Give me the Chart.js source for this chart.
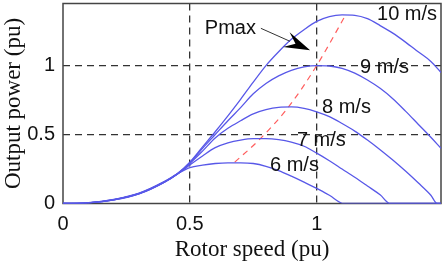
<!DOCTYPE html>
<html>
<head>
<meta charset="utf-8">
<title>Output power vs rotor speed</title>
<script src="https://cdn.jsdelivr.net/npm/chart.js@4.4.0/dist/chart.umd.min.js"></script>
<style>
  html, body { margin: 0; padding: 0; background: #fff; }
  #wrap { width: 444px; height: 264px; }
</style>
</head>
<body>
<div id="wrap"><canvas id="myChart" width="444" height="264"></canvas></div>
<script>
// rotor speed (pu) and output power (pu) for each wind speed
var x6  = [0, 0.1, 0.2, 0.3, 0.4, 0.45, 0.5, 0.55, 0.6, 0.65, 0.7, 0.75, 0.8, 0.85, 0.9, 0.95, 1.0, 1.05, 1.107, 1.49];
var p6  = [0, 0.006, 0.03, 0.075, 0.16, 0.215, 0.26, 0.278, 0.29, 0.295, 0.295, 0.29, 0.27, 0.238, 0.198, 0.155, 0.11, 0.06, 0, 0];
var x7  = [0, 0.1, 0.2, 0.3, 0.4, 0.45, 0.5, 0.55, 0.6, 0.65, 0.7, 0.75, 0.8, 0.85, 0.9, 0.95, 1.0, 1.05, 1.1, 1.15, 1.2, 1.25, 1.29, 1.49];
var p7  = [0, 0.005, 0.028, 0.073, 0.157, 0.212, 0.28, 0.345, 0.405, 0.44, 0.46, 0.47, 0.47, 0.463, 0.445, 0.415, 0.365, 0.31, 0.25, 0.19, 0.127, 0.063, 0, 0];
var x8  = [0, 0.1, 0.2, 0.3, 0.4, 0.45, 0.5, 0.55, 0.6, 0.65, 0.7, 0.75, 0.8, 0.85, 0.9, 0.95, 1.0, 1.05, 1.1, 1.15, 1.2, 1.25, 1.3, 1.35, 1.4, 1.45, 1.475, 1.49];
var p8  = [0, 0.005, 0.027, 0.072, 0.156, 0.212, 0.29, 0.38, 0.475, 0.545, 0.60, 0.65, 0.68, 0.697, 0.70, 0.69, 0.665, 0.63, 0.58, 0.525, 0.46, 0.39, 0.315, 0.235, 0.15, 0.06, 0, 0];
var x9  = [0, 0.1, 0.2, 0.3, 0.4, 0.45, 0.5, 0.55, 0.6, 0.65, 0.7, 0.75, 0.8, 0.85, 0.9, 0.95, 1.0, 1.05, 1.1, 1.15, 1.2, 1.25, 1.3, 1.35, 1.4, 1.45, 1.49];
var p9  = [0, 0.005, 0.027, 0.071, 0.155, 0.213, 0.295, 0.40, 0.50, 0.60, 0.695, 0.795, 0.87, 0.925, 0.965, 0.99, 1.0, 0.997, 0.98, 0.945, 0.895, 0.835, 0.76, 0.67, 0.575, 0.48, 0.40];
var x10 = [0, 0.1, 0.2, 0.3, 0.4, 0.45, 0.5, 0.55, 0.6, 0.65, 0.7, 0.75, 0.8, 0.85, 0.9, 0.95, 1.0, 1.05, 1.1, 1.15, 1.2, 1.25, 1.3, 1.35, 1.4, 1.45, 1.49];
var p10 = [0, 0.005, 0.026, 0.07, 0.155, 0.215, 0.30, 0.41, 0.52, 0.635, 0.755, 0.88, 1.0, 1.10, 1.19, 1.26, 1.32, 1.355, 1.367, 1.364, 1.34, 1.29, 1.235, 1.17, 1.10, 1.03, 0.95];

// maximum power points (red dashed)
var xPmax = [0.677, 0.778, 0.889, 1.0, 1.115];
var pPmax = [0.30, 0.47, 0.70, 1.0, 1.37];

var speedLabels = ['6 m/s', '7 m/s', '8 m/s', '9 m/s', '10 m/s'];
var xTicks = [0, 0.5, 1];
var yTicks = [0, 0.5, 1];

// where the text sits, in axis units
var labelAt = [[0.816, 0.279], [0.922, 0.46], [1.021, 0.699], [1.171, 0.989], [1.238, 1.368]];
var pmaxText = { text: 'Pmax', at: [0.559, 1.272] };
var arrowFrom = [0.78, 1.27], arrowTo = [0.974, 1.111];

var sans = '"Liberation Sans", Arial, sans-serif';
var serif = '"Liberation Serif", "Times New Roman", serif';
var blue = 'rgb(88,88,232)';

function pts(xs, ys) {
	return xs.map(function (x, i) { return { x: x, y: ys[i] }; });
}

var curves = [[x6, p6], [x7, p7], [x8, p8], [x9, p9], [x10, p10]];
var datasets = curves.map(function (c, i) {
	return { label: speedLabels[i], data: pts(c[0], c[1]), borderColor: blue, borderWidth: 1.3 };
});
datasets.push({ label: 'Pmax', data: pts(xPmax, pPmax), borderColor: 'rgb(255,95,95)', borderWidth: 1.2, borderDash: [6, 5] });

var overlay = {
	id: 'overlay',
	beforeDatasetsDraw: function (chart) {
		var a = chart.chartArea, c = chart.ctx;
		c.save();
		c.strokeStyle = '#444';
		c.lineWidth = 1.5;
		c.strokeRect(a.left, a.top, a.right - a.left, a.bottom - a.top);
		c.restore();
	},
	afterDatasetsDraw: function (chart) {
		var c = chart.ctx, sx = chart.scales.x, sy = chart.scales.y;
		c.save();
		c.fillStyle = '#111';
		c.font = '20px ' + sans;
		c.textAlign = 'left';
		c.textBaseline = 'middle';
		speedLabels.forEach(function (t, i) {
			c.fillText(t, sx.getPixelForValue(labelAt[i][0]), sy.getPixelForValue(labelAt[i][1]));
		});
		c.fillText(pmaxText.text, sx.getPixelForValue(pmaxText.at[0]), sy.getPixelForValue(pmaxText.at[1]));

		// arrow
		var x0 = sx.getPixelForValue(arrowFrom[0]), y0 = sy.getPixelForValue(arrowFrom[1]);
		var x1 = sx.getPixelForValue(arrowTo[0]), y1 = sy.getPixelForValue(arrowTo[1]);
		var ang = Math.atan2(y1 - y0, x1 - x0), len = 22, hw = 8;
		var bx = x1 - len * Math.cos(ang), by = y1 - len * Math.sin(ang);
		c.strokeStyle = '#333';
		c.lineWidth = 1;
		c.beginPath();
		c.moveTo(x0, y0);
		c.lineTo(bx, by);
		c.stroke();
		c.fillStyle = '#000';
		c.beginPath();
		c.moveTo(x1, y1);
		c.lineTo(bx - hw * Math.sin(ang) - 4 * Math.cos(ang), by + hw * Math.cos(ang) - 4 * Math.sin(ang));
		c.lineTo(bx + 6 * Math.cos(ang), by + 6 * Math.sin(ang));
		c.lineTo(bx + hw * Math.sin(ang) - 4 * Math.cos(ang), by - hw * Math.cos(ang) - 4 * Math.sin(ang));
		c.closePath();
		c.fill();
		c.restore();
	}
};

function gridColor(ctx) {
	return ctx.tick && ctx.tick.value === 0 ? 'rgba(0,0,0,0)' : '#333';
}
function noPad(s) {
	s.paddingTop = 0; s.paddingBottom = 0; s.paddingLeft = 0; s.paddingRight = 0;
}

var ctx = document.getElementById('myChart').getContext('2d');
var myChart = new Chart(ctx, {
	type: 'line',
	data: { datasets: datasets },
	options: {
		responsive: false,
		animation: false,
		layout: { padding: { top: 3.5, right: 3, left: 0, bottom: 0 } },
		plugins: { legend: { display: false }, tooltip: { enabled: false } },
		elements: { point: { radius: 0 }, line: { cubicInterpolationMode: 'monotone', fill: false } },
		scales: {
			x: {
				type: 'linear', min: 0, max: 1.49,
				afterBuildTicks: function (s) { s.ticks = xTicks.map(function (v) { return { value: v }; }); },
				afterFit: function (s) { s.height = 60.5; noPad(s); },
				grid: { color: gridColor, lineWidth: 1.3, drawTicks: false },
				border: { display: false, dash: [7, 5] },
				ticks: { color: '#111', font: { family: sans, size: 20 }, padding: 9, maxRotation: 0,
					callback: function (v) { return String(v); } },
				title: { display: true, text: 'Rotor speed (pu)', color: '#111', font: { family: serif, size: 23, lineHeight: 1.2 }, padding: 0 }
			},
			y: {
				type: 'linear', min: 0, max: 1.45,
				afterBuildTicks: function (s) { s.ticks = yTicks.map(function (v) { return { value: v }; }); },
				afterFit: function (s) { s.width = 63; noPad(s); },
				grid: { color: gridColor, lineWidth: 1.3, drawTicks: false },
				border: { display: false, dash: [7, 5] },
				ticks: { color: '#111', font: { family: sans, size: 20 }, padding: 8,
					callback: function (v) { return String(v); } },
				title: { display: true, text: 'Output power (pu)', color: '#111', font: { family: serif, size: 23, lineHeight: 1.2 }, padding: 0 }
			}
		}
	},
	plugins: [overlay]
});
</script>
</body>
</html>
